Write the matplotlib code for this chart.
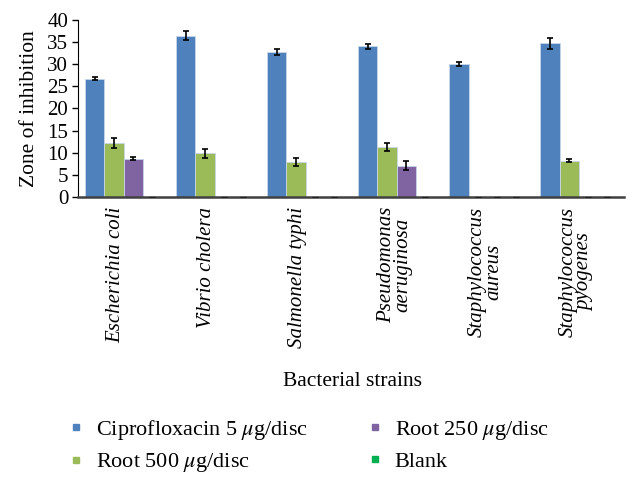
import numpy as np
import matplotlib
matplotlib.use('Agg')
import matplotlib.pyplot as plt
import matplotlib.transforms as mtransforms
from matplotlib.lines import Line2D

plt.rcParams['font.family'] = ['Liberation Serif', 'DejaVu Serif']
plt.rcParams['mathtext.fontset'] = 'stix'

strains = ['Escherichia coli', 'Vibrio cholera', 'Salmonella typhi',
           'Pseudomonas\naeruginosa', 'Staphylococcus\naureus',
           'Staphylococcus\npyogenes']
series = ['Ciprofloxacin 5 $\\mu$g/disc', 'Root 500 $\\mu$g/disc',
          'Root 250 $\\mu$g/disc', 'Blank']
cipro = [26.7, 36.4, 32.8, 34.0, 30.0, 34.7]
cipro_err = [0.3, 1.0, 0.7, 0.5, 0.4, 1.2]
root500 = [12.2, 9.9, 7.9, 11.3, 0, 8.2]
root500_err = [1.2, 1.0, 1.0, 0.8, 0, 0.3]
root250 = [8.7, 0, 0, 7.1, 0, 0]
root250_err = [0.3, 0, 0, 1.1, 0, 0]
blank = [0, 0, 0, 0, 0, 0]
blank_err = [0, 0, 0, 0, 0, 0]

colors = ['#4F81BD', '#9BBB59', '#8064A2', '#00B050']
values = [cipro, root500, root250, blank]
errors = [cipro_err, root500_err, root250_err, blank_err]

fig = plt.figure(figsize=(6.38, 4.83), dpi=100)
ax = fig.add_axes([0.1223, 0.592, 0.856, 0.367])

x = np.arange(len(strains))
w = 0.21
for i in range(4):
    pos = x + (i - 1.5) * w
    vals = np.array(values[i])
    err = np.array(errors[i])
    ax.bar(pos, vals, w, color=colors[i], edgecolor='#c8d6ea', linewidth=0.6, zorder=2)
    nz = err > 0
    ax.errorbar(pos[nz], vals[nz], yerr=err[nz], fmt='none',
                ecolor='black', elinewidth=1.2, capsize=2.5, capthick=1.2, zorder=3)
    # zero-height error caps sit on the axis line
    ax.errorbar(pos[~nz], vals[~nz], yerr=err[~nz], fmt='none',
                ecolor='#202020', elinewidth=0.8, capsize=2.5, capthick=0.8, zorder=3)

ax.set_xlim(-0.5, len(strains) - 0.5)
ax.set_ylim(0, 40)
ax.set_yticks(range(0, 41, 5))
ax.tick_params(axis='y', labelsize=15, length=4, width=1, direction='out', pad=3)
ax.set_xticks(x)
ax.set_xticklabels(strains, rotation=90, style='italic', fontsize=15,
                   va='top', ha='center', linespacing=0.85)
ax.tick_params(axis='x', length=0, pad=7)
for lab in ax.get_xticklabels():
    dx = -2 if '\n' in lab.get_text() else -8
    lab.set_transform(lab.get_transform() +
                      mtransforms.ScaledTranslation(dx / 100, 0, fig.dpi_scale_trans))
ax.spines['top'].set_visible(False)
ax.spines['right'].set_visible(False)
ax.spines['bottom'].set_color('#404040')
ax.spines['bottom'].set_linewidth(1.8)
ax.spines['left'].set_color('black')
ax.set_ylabel('Zone of inhibition', fontsize=15.5, labelpad=6)
fig.text(0.552, 1 - 382 / 483, 'Bacterial strains', ha='center', va='center', fontsize=15.5)

handles = [Line2D([], [], ls='none', marker='s', markersize=5, color=c) for c in colors]
fig.legend(handles, series, ncol=2, loc='upper left', bbox_to_anchor=(0.088, 0.153),
           frameon=False, fontsize=16, handletextpad=0.4, columnspacing=2.5,
           labelspacing=0.42, handlelength=1.0, borderaxespad=0)

fig.savefig('out.png', dpi=100)
